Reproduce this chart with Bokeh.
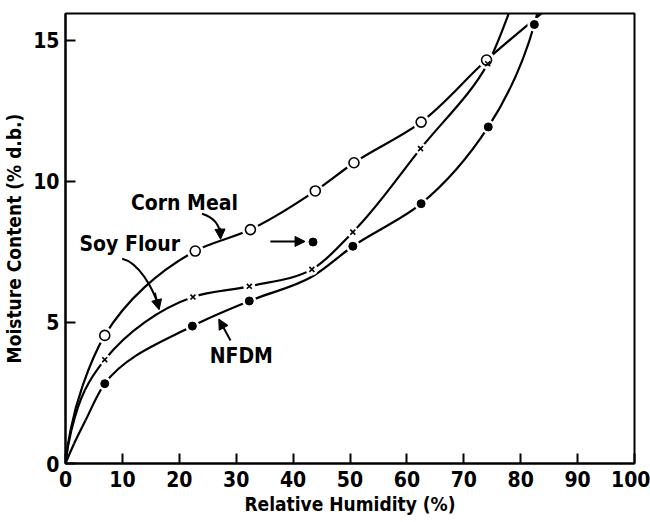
import numpy as np
from bokeh.plotting import figure
from bokeh.models import Range1d, FixedTicker, Arrow, NormalHead, ColumnDataSource
from bokeh.core.properties import value
from bokeh.embed import file_html
from bokeh.resources import INLINE

# ---------------- data ----------------
# Corn Meal (open circles)
rh_cm = [6.9, 22.8, 32.5, 43.9, 50.7, 62.5, 74.0]
mc_cm = [4.54, 7.53, 8.29, 9.66, 10.66, 12.1, 14.3]
# Soy Flour (crosses)
rh_sf = [6.9, 22.4, 32.3, 43.3, 50.5, 62.4, 74.2]
mc_sf = [3.68, 5.9, 6.28, 6.88, 8.2, 11.16, 14.17]
# NFDM (filled circles)
rh_nf = [6.9, 22.3, 32.3, 50.5, 62.5, 74.3, 82.4]
mc_nf = [2.83, 4.87, 5.76, 7.7, 9.21, 11.93, 15.56]
# isolated NFDM point marked with an arrow
rh_nf_mark = [43.5]
mc_nf_mark = [7.85]

# traced curve paths (near origin, between points and beyond the top edge)
cm_fit_x = [0, 0.9, 3.0] + rh_cm + [84.5]
cm_fit_y = [0, 1.2, 2.75] + mc_cm + [16.1]
sf_fit_x = [0, 1.0, 3.4] + rh_sf + [78.5]
sf_fit_y = [0, 1.15, 2.6] + mc_sf + [16.25]
nf_fit_x = [0, 1.5, 3.5] + rh_nf[:3] + [43.3] + rh_nf[3:] + [83.1]
nf_fit_y = [0, 0.7, 1.52] + mc_nf[:3] + [6.62] + mc_nf[3:] + [16.1]

x_ticks = [0, 10, 20, 30, 40, 50, 60, 70, 80, 90, 100]
y_ticks = [0, 5, 10, 15]

# annotation texts and positions
labels = ["Corn Meal", "Soy Flour", "NFDM"]
label_x = [20.9, 11.3, 30.9]
label_y = [9.24, 7.78, 3.8]

FONT = "'DejaVu Sans Condensed', 'Liberation Sans Narrow', 'Roboto Condensed', Roboto, sans-serif"

SX, SY = 5.69, 28.2  # approximate pixel scale, used for curve parameterisation


def smooth(xs, ys):
    P = np.column_stack([np.asarray(xs, float) * SX, np.asarray(ys, float) * SY])
    d = np.hypot(*np.diff(P, axis=0).T)
    n = len(P)
    m = np.empty_like(P)
    for i in range(1, n - 1):
        a = (P[i] - P[i - 1]) / d[i - 1]
        b = (P[i + 1] - P[i]) / d[i]
        m[i] = (a * d[i] + b * d[i - 1]) / (d[i - 1] + d[i])
    m[0] = 2 * (P[1] - P[0]) / d[0] - m[1]
    m[-1] = (P[-1] - P[-2]) / d[-1]
    c0 = P[:-1] + m[:-1] * d[:, None] / 3
    c1 = P[1:] - m[1:] * d[:, None] / 3
    return dict(x0=P[:-1, 0] / SX, y0=P[:-1, 1] / SY,
                x1=P[1:, 0] / SX, y1=P[1:, 1] / SY,
                cx0=c0[:, 0] / SX, cy0=c0[:, 1] / SY,
                cx1=c1[:, 0] / SX, cy1=c1[:, 1] / SY)


p = figure(width=650, height=522, x_range=Range1d(0, 100), y_range=Range1d(0, 15.95),
           output_backend="svg", toolbar_location=None,
           min_border_left=65, min_border_right=16, min_border_top=13, min_border_bottom=59)
p.background_fill_color = "white"
p.border_fill_color = "white"
p.grid.visible = False
p.outline_line_color = "black"
p.outline_line_width = 2
p.outline_line_alpha = 1

for ax in (p.xaxis[0], p.yaxis[0]):
    ax.axis_line_width = 2
    ax.major_tick_line_width = 2
    ax.major_tick_in = 10
    ax.major_tick_out = 0
    ax.minor_tick_line_color = None
    ax.major_label_text_font = FONT
    ax.major_label_text_font_style = "bold"
    ax.major_label_text_font_size = "21px"
    ax.major_label_text_color = "black"
    ax.axis_label_text_font = FONT
    ax.axis_label_text_font_style = "bold"
    ax.axis_label_text_font_size = "19px"
    ax.axis_label_text_color = "black"

p.xaxis.ticker = FixedTicker(ticks=x_ticks)
p.yaxis.ticker = FixedTicker(ticks=y_ticks)
p.xaxis.axis_label = "Relative Humidity (%)"
p.yaxis.axis_label = "Moisture Content (% d.b.)"
p.xaxis.major_label_standoff = 7
p.xaxis.axis_label_standoff = 3
p.yaxis.major_label_standoff = 6
p.yaxis.axis_label_standoff = 5

# curves
for fx, fy in ((cm_fit_x, cm_fit_y), (sf_fit_x, sf_fit_y), (nf_fit_x, nf_fit_y)):
    src = ColumnDataSource(smooth(fx, fy))
    p.bezier(x0="x0", y0="y0", x1="x1", y1="y1", cx0="cx0", cy0="cy0", cx1="cx1", cy1="cy1",
             source=src, line_color="black", line_width=2.2)

# white halos giving the broken-line look around the markers
p.scatter(rh_cm, mc_cm, marker="circle", size=17, fill_color="white", line_color=None)
p.scatter(rh_nf, mc_nf, marker="circle", size=14, fill_color="white", line_color=None)
p.scatter(rh_sf, mc_sf, marker="circle", size=12, fill_color="white", line_color=None)

# markers
p.scatter(rh_cm, mc_cm, marker="circle", size=10, fill_color="white", line_color="black", line_width=1.6)
p.scatter(rh_sf, mc_sf, marker="x", size=7, line_color="black", line_width=1.6)
p.scatter(rh_nf, mc_nf, marker="circle", size=8, fill_color="black", line_color="black")
p.scatter(rh_nf_mark, mc_nf_mark, marker="circle", size=8, fill_color="black", line_color="black")

# labels
p.text(x=label_x, y=label_y, text=labels, text_font=value(FONT), text_font_style="bold",
       text_font_size="21px", text_align="center", text_baseline="middle", text_color="black")

# curved pointer shafts (Corn Meal, Soy Flour)
ptr = dict(x0=[24.0, 9.96], y0=[8.85, 7.26],
           cx0=[26.0, 12.83], cy0=[8.72, 7.13],
           cx1=[27.1, 15.3], cy1=[8.45, 6.24],
           x1=[27.2, 16.3], y1=[8.1, 5.6])
p.bezier(source=ColumnDataSource(ptr), x0="x0", y0="y0", x1="x1", y1="y1",
         cx0="cx0", cy0="cy0", cx1="cx1", cy1="cy1", line_color="black", line_width=2)

# arrow heads / straight arrows: (x_start, y_start, x_end, y_end)
arrows = [
    (27.15, 8.35, 27.25, 7.95),   # Corn Meal
    (15.7, 6.05, 16.45, 5.45),    # Soy Flour
    (29.0, 4.36, 26.94, 5.12),    # NFDM
    (36.0, 7.87, 42.1, 7.87),     # isolated point
]
for xs, ys, xe, ye in arrows:
    p.add_layout(Arrow(end=NormalHead(size=10, fill_color="black", line_color="black", line_width=1),
                       x_start=xs, y_start=ys, x_end=xe, y_end=ye,
                       line_color="black", line_width=2))

open("out.html", "w").write(file_html(p, INLINE))
